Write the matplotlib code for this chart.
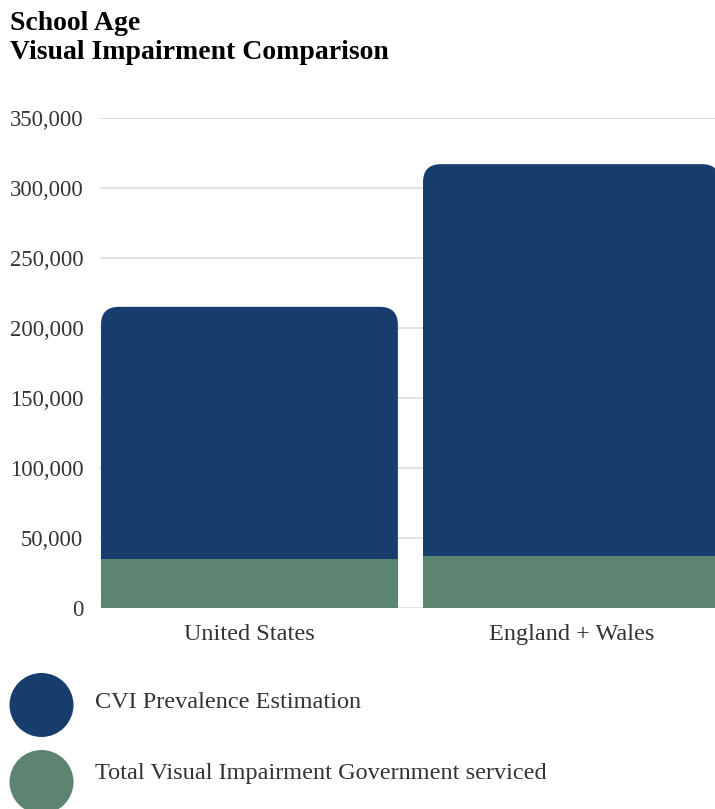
import matplotlib
matplotlib.use("Agg")
import matplotlib.pyplot as plt
from matplotlib.patches import FancyBboxPatch, Circle
from matplotlib.ticker import FuncFormatter

categories = ["United States", "England + Wales"]
serviced = [35000, 37000]          # Total Visual Impairment Government serviced
cvi_extra = [180000, 280000]       # CVI Prevalence Estimation (stacked on top)
series_names = ["CVI Prevalence Estimation", "Total Visual Impairment Government serviced"]
yticks = [0, 50000, 100000, 150000, 200000, 250000, 300000, 350000]
title = "School Age\nVisual Impairment Comparison"

BLUE = "#173d6d"
GREEN = "#5d8470"
FONT = "Liberation Serif"

W, H = 715, 809
fig = plt.figure(figsize=(W / 100, H / 100), dpi=100)
ax = fig.add_axes([100 / W, (H - 607.5) / H, (W - 100) / W, 489.5 / H])

x = list(range(len(categories)))
bw = 0.922
totals = [s + c for s, c in zip(serviced, cvi_extra)]
ax.set_xlim(-0.464, 1.4457)
ax.set_ylim(0, 350000)

# blue bars (full height, rounded top) then green on top of the bottom part
blue = ax.bar(x, totals, width=bw, color=BLUE, zorder=2)
fig.canvas.draw()
inv = ax.transData.inverted()
p0 = inv.transform((0, 0))
p1 = inv.transform((1, 1))
xu_per_px = p1[0] - p0[0]
yu_per_px = p1[1] - p0[1]
r_px = 18
for rect in blue:
    rect.set_visible(False)
    fb = FancyBboxPatch((rect.get_x(), rect.get_y()), rect.get_width(), rect.get_height(),
                        boxstyle=f"round,pad=0,rounding_size={r_px * xu_per_px}",
                        mutation_aspect=yu_per_px / xu_per_px,
                        facecolor=BLUE, edgecolor="none", zorder=2)
    ax.add_patch(fb)
ax.bar(x, serviced, width=bw, color=GREEN, zorder=3)

ax.set_yticks(yticks)
ax.yaxis.set_major_formatter(FuncFormatter(lambda v, p: f"{int(v):,}"))
ax.grid(axis="y", color="#dddddd", linewidth=1.2, zorder=0)
ax.set_axisbelow(True)
for s in ax.spines.values():
    s.set_visible(False)
ax.tick_params(axis="y", length=0, pad=12, labelsize=16.3, labelcolor="#333333")
ax.tick_params(axis="x", length=0, pad=12, labelsize=17.5, labelcolor="#333333")
ax.set_xticks(x)
ax.set_xticklabels(categories)
for lab in ax.get_yticklabels() + ax.get_xticklabels():
    lab.set_fontfamily(FONT)

fig.text(10 / W, 1 - 11 / H, title, ha="left", va="top", fontsize=20, fontweight="bold",
         family=FONT, color="#000000", linespacing=1.2)

# legend
leg_y = [705, 782]
text_y = [703, 774]
leg_colors = [BLUE, GREEN]
for yy, ty, col, name in zip(leg_y, text_y, leg_colors, series_names):
    c = Circle((41.5 / 100, (H - yy) / 100), 32 / 100, transform=fig.dpi_scale_trans,
               facecolor=col, edgecolor="none", clip_on=False)
    fig.add_artist(c)
    fig.text(95 / W, (H - ty) / H, name, ha="left", va="center", fontsize=17.5,
             family=FONT, color="#333333")

fig.savefig("out.png", dpi=100)
